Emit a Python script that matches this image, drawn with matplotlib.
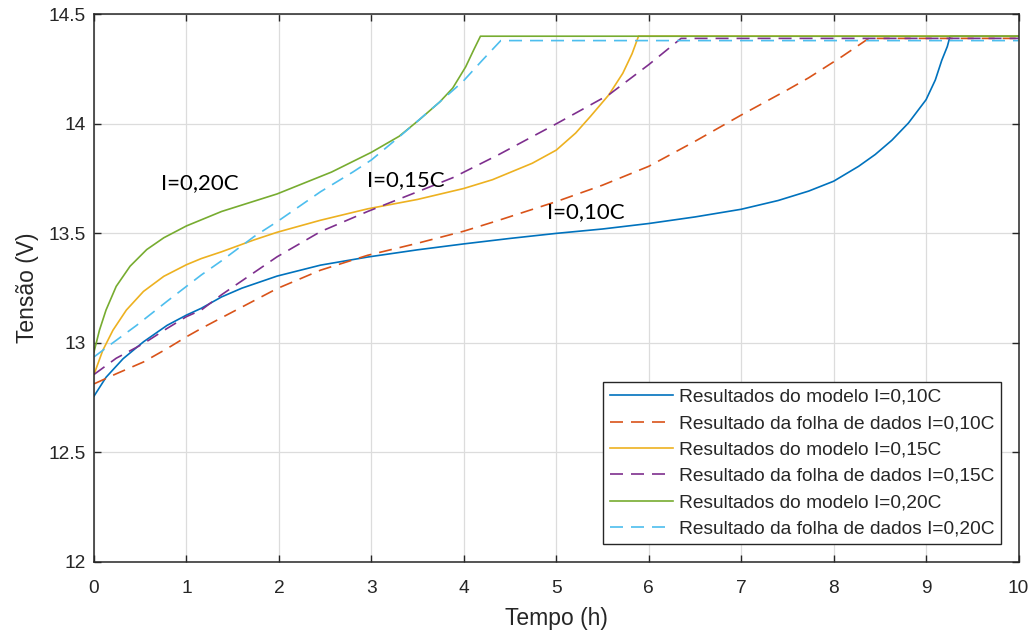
import numpy as np
import matplotlib
matplotlib.use("Agg")
import matplotlib.pyplot as plt

# curves (time in h, voltage in V)
t_mod_010 = [0, 0.13, 0.315, 0.535, 0.79, 1.0, 1.16, 1.38, 1.6, 1.98, 2.45, 2.96, 3.5, 4.0, 4.5,
             5.0, 5.5, 6.0, 6.5, 7.0, 7.4, 7.73, 8.0, 8.27, 8.45, 8.63, 8.81, 9.0, 9.10, 9.17,
             9.23, 9.26, 10]
v_mod_010 = [12.757, 12.843, 12.928, 13.005, 13.08, 13.127, 13.158, 13.21, 13.25, 13.305, 13.355,
             13.392, 13.425, 13.452, 13.477, 13.50, 13.52, 13.545, 13.575, 13.61, 13.65, 13.693,
             13.738, 13.806, 13.86, 13.925, 14.004, 14.11, 14.20, 14.29, 14.353, 14.40, 14.40]

t_dat_010 = [0, 0.24, 0.535, 0.79, 1.0, 1.16, 1.38, 1.98, 2.45, 2.96, 3.5, 4.0, 4.38, 5.0, 5.5,
             6.0, 6.5, 7.0, 7.5, 7.73, 8.09, 8.38, 10]
v_dat_010 = [12.813, 12.859, 12.913, 12.974, 13.028, 13.066, 13.115, 13.248, 13.332, 13.40,
             13.455, 13.51, 13.56, 13.645, 13.72, 13.806, 13.92, 14.04, 14.155, 14.21, 14.307,
             14.39, 14.39]

t_mod_015 = [0, 0.095, 0.205, 0.35, 0.535, 0.755, 1.0, 1.16, 1.38, 1.73, 1.98, 2.45, 2.96, 3.5,
             4.0, 4.31, 4.74, 5.0, 5.21, 5.37, 5.57, 5.72, 5.82, 5.89, 10]
v_mod_015 = [12.856, 12.966, 13.058, 13.15, 13.235, 13.304, 13.357, 13.385, 13.416, 13.47,
             13.505, 13.56, 13.612, 13.655, 13.705, 13.745, 13.82, 13.88, 13.958, 14.034, 14.133,
             14.231, 14.32, 14.40, 14.40]

t_dat_015 = [0, 0.24, 0.535, 0.79, 1.0, 1.16, 1.38, 1.98, 2.45, 2.96, 3.5, 3.88, 4.38, 5.0, 5.57,
             6.0, 6.35, 10]
v_dat_015 = [12.856, 12.93, 12.997, 13.066, 13.12, 13.15, 13.22, 13.393, 13.508, 13.60, 13.69,
             13.754, 13.86, 14.0, 14.133, 14.27, 14.39, 14.39]

t_mod_020 = [0, 0.059, 0.13, 0.24, 0.39, 0.57, 0.755, 1.0, 1.38, 1.98, 2.57, 3.0, 3.30, 3.52,
             3.74, 3.88, 4.02, 4.11, 4.18, 10]
v_mod_020 = [12.959, 13.058, 13.15, 13.258, 13.35, 13.426, 13.48, 13.534, 13.60, 13.68, 13.78,
             13.87, 13.943, 14.019, 14.10, 14.163, 14.26, 14.34, 14.40, 14.40]

t_dat_020 = [0, 0.17, 0.46, 0.79, 1.16, 1.38, 1.73, 1.98, 2.45, 2.8, 3.0, 3.30, 3.74, 3.99, 4.20,
             4.40, 10]
v_dat_020 = [12.936, 12.99, 13.08, 13.19, 13.31, 13.375, 13.485, 13.553, 13.69, 13.78, 13.835,
             13.94, 14.10, 14.193, 14.29, 14.38, 14.38]

legend_labels = ["Resultados do modelo I=0,10C", "Resultado da folha de dados I=0,10C",
                 "Resultados do modelo I=0,15C", "Resultado da folha de dados I=0,15C",
                 "Resultados do modelo I=0,20C", "Resultado da folha de dados I=0,20C"]
annotations = [("I=0,20C", 0.72, 13.73), ("I=0,15C", 2.95, 13.745), ("I=0,10C", 4.9, 13.595)]

colors = ["#0072BD", "#D95319", "#EDB120", "#7E2F8E", "#77AC30", "#4DBEEE"]
ink = "#262626"

plt.rcParams["font.family"] = ["Liberation Sans", "DejaVu Sans"]

fig = plt.figure(figsize=(10.35, 6.34), dpi=100)
ax = fig.add_axes([94 / 1035, 1 - 562 / 634, (1018.5 - 94) / 1035, (562 - 14.3) / 634])

series = [(t_mod_010, v_mod_010), (t_dat_010, v_dat_010), (t_mod_015, v_mod_015),
          (t_dat_015, v_dat_015), (t_mod_020, v_mod_020), (t_dat_020, v_dat_020)]
for i, ((t, v), lab) in enumerate(zip(series, legend_labels)):
    if i % 2 == 0:
        ax.plot(t, v, color=colors[i], lw=1.2, label=lab)
    else:
        ax.plot(t, v, color=colors[i], lw=1.2, ls=(0, (7.8, 4.8)), label=lab)

for txt, x, y in annotations:
    ax.text(x, y, txt, fontsize=16, family=["Lato", "DejaVu Sans"], color="black",
            ha="left", va="center")

ax.set_xlim(0, 10)
ax.set_ylim(12, 14.5)
ax.set_xticks(np.arange(0, 11, 1))
ax.set_yticks([12, 12.5, 13, 13.5, 14, 14.5])
ax.set_yticklabels(["12", "12.5", "13", "13.5", "14", "14.5"])
ax.grid(True, color="#dcdcdc", lw=0.9)
ax.set_axisbelow(True)
ax.tick_params(direction="in", length=5, width=1, top=True, right=True, colors=ink,
               labelsize=13.8)
ax.tick_params(axis="x", pad=13)
ax.tick_params(axis="y", pad=6)
for s in ax.spines.values():
    s.set_color(ink)
    s.set_linewidth(1.1)

ax.set_xlabel("Tempo (h)", fontsize=16.5, color=ink, labelpad=7.5)
ax.set_ylabel("Tensão (V)", fontsize=16.5, color=ink, labelpad=7)

leg = ax.legend(loc="lower right", bbox_to_anchor=(0.9808, 0.0323), borderaxespad=0,
                fontsize=13.8, handlelength=3.3, handletextpad=0.3, labelspacing=0.465,
                borderpad=0.35, fancybox=False, framealpha=1, edgecolor=ink)
leg.get_frame().set_linewidth(1.0)
for t in leg.get_texts():
    t.set_color(ink)

fig.savefig("out.png", dpi=100)
